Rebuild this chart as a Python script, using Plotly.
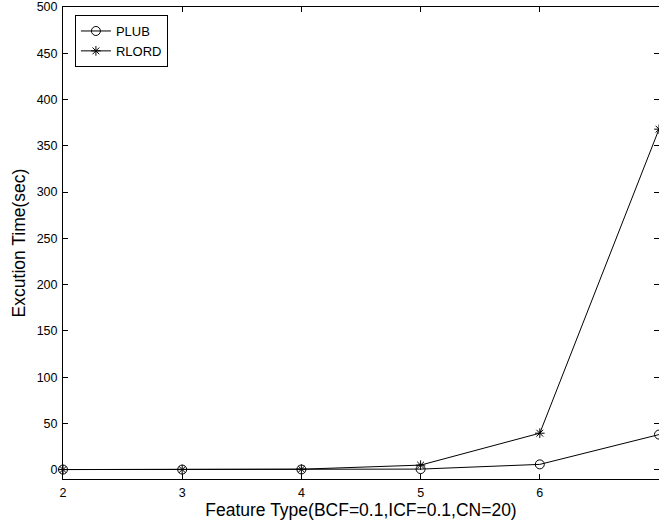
import plotly.graph_objects as go

feature_type = [2, 3, 4, 5, 6, 7]
plub = [0.2, 0.2, 0.3, 0.7, 5.8, 38]
rlord = [0.2, 0.2, 0.6, 5, 39.5, 368]

x_ticks = [2, 3, 4, 5, 6, 7]
y_ticks = [0, 50, 100, 150, 200, 250, 300, 350, 400, 450, 500]

fig = go.Figure()
fig.add_trace(go.Scatter(
    x=feature_type, y=plub, name="PLUB", mode="lines+markers",
    line=dict(color="black", width=1),
    marker=dict(symbol="circle-open", size=9, color="black", line=dict(width=1)),
    cliponaxis=False,
))
fig.add_trace(go.Scatter(
    x=feature_type, y=rlord, name="RLORD", mode="lines+markers",
    line=dict(color="black", width=1),
    marker=dict(symbol="asterisk-open", size=8, color="black", line=dict(width=1)),
    cliponaxis=False,
))

axis_common = dict(
    showgrid=False, zeroline=False, showline=True, linecolor="black", linewidth=1,
    mirror="ticks", ticks="inside", ticklen=5, tickcolor="black", tickwidth=1,
    automargin=False,
    tickfont=dict(family="Liberation Sans, Arial, sans-serif", size=12.5, color="black"),
)

fig.update_layout(
    width=659, height=523,
    margin=dict(l=63, r=0, t=7, b=44),
    paper_bgcolor="white", plot_bgcolor="white",
    font=dict(family="Liberation Sans, Arial, sans-serif", color="black"),
    xaxis=dict(range=[2, 7], tickvals=x_ticks, ticklabelstandoff=2,
               title=dict(text="Feature Type(BCF=0.1,ICF=0.1,CN=20)", font=dict(size=17.5), standoff=4),
               **axis_common),
    yaxis=dict(range=[-10, 500], tickvals=y_ticks, ticklabelstandoff=2,
               title=dict(text="Excution Time(sec)", font=dict(size=17.5), standoff=6),
               **axis_common),
    legend=dict(x=0.02, y=0.983, xanchor="left", yanchor="top",
                bordercolor="black", borderwidth=1, bgcolor="white",
                font=dict(size=13), tracegroupgap=0, itemwidth=30),
    showlegend=True,
)

fig.write_html("out.html", config={"displayModeBar": False},
               post_script="document.body.style.margin='0';document.body.style.overflow='hidden';")
